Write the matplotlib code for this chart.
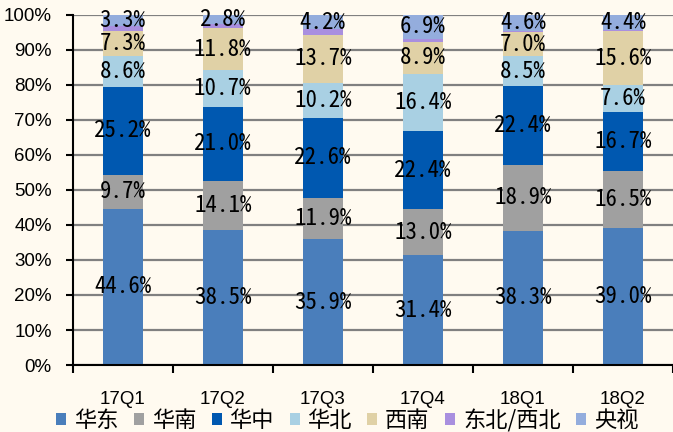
import numpy as np
import matplotlib
matplotlib.use('Agg')
import matplotlib.pyplot as plt
from matplotlib.ticker import FixedLocator, NullFormatter

plt.rcParams['font.family'] = ['Noto Sans CJK SC', 'DejaVu Sans']

quarters = ['17Q1', '17Q2', '17Q3', '17Q4', '18Q1', '18Q2']
regions = ['华东', '华南', '华中', '华北', '西南', '东北/西北', '央视']

huadong = [44.6, 38.5, 35.9, 31.4, 38.3, 39.0]
huanan = [9.7, 14.1, 11.9, 13.0, 18.9, 16.5]
huazhong = [25.2, 21.0, 22.6, 22.4, 22.4, 16.7]
huabei = [8.6, 10.7, 10.2, 16.4, 8.5, 7.6]
xinan = [7.3, 11.8, 13.7, 8.9, 7.0, 15.6]
dongbei_xibei = [1.3, 1.1, 1.5, 1.0, 0.3, 0.2]
cctv = [3.3, 2.8, 4.2, 6.9, 4.6, 4.4]

series = [huadong, huanan, huazhong, huabei, xinan, dongbei_xibei, cctv]
colors = ['#4a7ebb', '#a0a0a0', '#0058b0', '#a9d0e3', '#e0d1a6', '#a98fdf', '#94addd']
show_label = [True, True, True, True, True, False, True]

bg = '#fffaf0'
fig = plt.figure(figsize=(6.73, 4.32), dpi=100, facecolor=bg)
ax = fig.add_axes([0.108, 0.155, 0.892, 0.811], facecolor=bg)

data = np.array(series, dtype=float)
data = data / data.sum(axis=0) * 100
x = np.arange(len(quarters))
bottom = np.zeros(len(quarters))
for i, name in enumerate(regions):
    ax.bar(x, data[i], 0.4, bottom=bottom, color=colors[i], label=name, zorder=3)
    if show_label[i]:
        for j in range(len(quarters)):
            ax.text(x[j], bottom[j] + data[i][j] / 2, '%.1f%%' % series[i][j],
                    ha='center', va='center', fontsize=16.5, color='black', zorder=4,
                    family=['Noto Sans Mono CJK SC', 'DejaVu Sans Mono'])
    bottom += data[i]

ax.set_ylim(0, 100)
ax.set_xlim(-0.5, len(quarters) - 0.5)
ax.set_yticks(np.arange(0, 101, 10), ['%d%%' % v for v in range(0, 101, 10)])
ax.yaxis.grid(True, color='#808080', linewidth=1.6, zorder=0)
ax.set_axisbelow(True)

# labels at bar centres, tick marks at category boundaries
ax.set_xticks(x, quarters)
ax.xaxis.set_minor_locator(FixedLocator(np.arange(-0.5, len(quarters), 1)))
ax.xaxis.set_minor_formatter(NullFormatter())
ax.tick_params(axis='x', which='major', length=0, pad=19,
               labelsize=13.5, labelfontfamily='Liberation Sans')
ax.tick_params(axis='x', which='minor', length=6, width=1.5, direction='out')
ax.tick_params(axis='y', length=5, width=1.5, direction='out', pad=10,
               labelsize=13.5, labelfontfamily='Liberation Sans')

for s in ['top', 'right']:
    ax.spines[s].set_visible(False)
for s in ['left', 'bottom']:
    ax.spines[s].set_linewidth(1.5)
    ax.spines[s].set_color('black')
    ax.spines[s].set_zorder(5)

fig.legend(loc='center', bbox_to_anchor=(0.516, 0.026), ncol=7, frameon=False,
           fontsize=16, handlelength=0.45, handleheight=0.45, handletextpad=0.35,
           columnspacing=0.7, borderpad=0)

fig.savefig('out.png', dpi=100, facecolor=bg)
